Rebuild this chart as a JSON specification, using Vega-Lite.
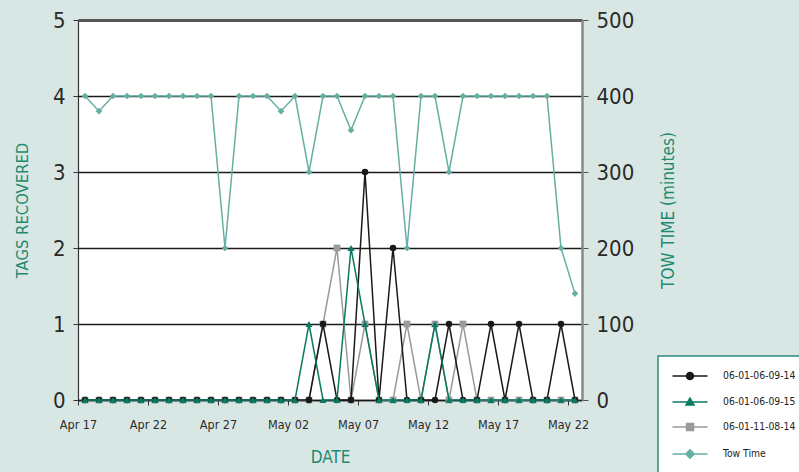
{
  "$schema": "https://vega.github.io/schema/vega-lite/v6.json",
  "width": 504,
  "height": 380,
  "autosize": "none",
  "padding": {"left": 78, "top": 20, "right": 217, "bottom": 72},
  "background": "#d9e7e4",
  "config": {
    "view": {"fill": "white", "stroke": null},
    "font": "Liberation Sans Narrow, DejaVu Sans Condensed, sans-serif"
  },
  "data": {
    "values": [
      {"date": "2006-04-17", "06-01-06-09-14": 0, "06-01-06-09-15": 0, "06-01-11-08-14": 0, "tow": 400},
      {"date": "2006-04-18", "06-01-06-09-14": 0, "06-01-06-09-15": 0, "06-01-11-08-14": 0, "tow": 380},
      {"date": "2006-04-19", "06-01-06-09-14": 0, "06-01-06-09-15": 0, "06-01-11-08-14": 0, "tow": 400},
      {"date": "2006-04-20", "06-01-06-09-14": 0, "06-01-06-09-15": 0, "06-01-11-08-14": 0, "tow": 400},
      {"date": "2006-04-21", "06-01-06-09-14": 0, "06-01-06-09-15": 0, "06-01-11-08-14": 0, "tow": 400},
      {"date": "2006-04-22", "06-01-06-09-14": 0, "06-01-06-09-15": 0, "06-01-11-08-14": 0, "tow": 400},
      {"date": "2006-04-23", "06-01-06-09-14": 0, "06-01-06-09-15": 0, "06-01-11-08-14": 0, "tow": 400},
      {"date": "2006-04-24", "06-01-06-09-14": 0, "06-01-06-09-15": 0, "06-01-11-08-14": 0, "tow": 400},
      {"date": "2006-04-25", "06-01-06-09-14": 0, "06-01-06-09-15": 0, "06-01-11-08-14": 0, "tow": 400},
      {"date": "2006-04-26", "06-01-06-09-14": 0, "06-01-06-09-15": 0, "06-01-11-08-14": 0, "tow": 400},
      {"date": "2006-04-27", "06-01-06-09-14": 0, "06-01-06-09-15": 0, "06-01-11-08-14": 0, "tow": 200},
      {"date": "2006-04-28", "06-01-06-09-14": 0, "06-01-06-09-15": 0, "06-01-11-08-14": 0, "tow": 400},
      {"date": "2006-04-29", "06-01-06-09-14": 0, "06-01-06-09-15": 0, "06-01-11-08-14": 0, "tow": 400},
      {"date": "2006-04-30", "06-01-06-09-14": 0, "06-01-06-09-15": 0, "06-01-11-08-14": 0, "tow": 400},
      {"date": "2006-05-01", "06-01-06-09-14": 0, "06-01-06-09-15": 0, "06-01-11-08-14": 0, "tow": 380},
      {"date": "2006-05-02", "06-01-06-09-14": 0, "06-01-06-09-15": 0, "06-01-11-08-14": 0, "tow": 400},
      {"date": "2006-05-03", "06-01-06-09-14": 0, "06-01-06-09-15": 1, "06-01-11-08-14": 0, "tow": 300},
      {"date": "2006-05-04", "06-01-06-09-14": 1, "06-01-06-09-15": 0, "06-01-11-08-14": 1, "tow": 400},
      {"date": "2006-05-05", "06-01-06-09-14": 0, "06-01-06-09-15": 0, "06-01-11-08-14": 2, "tow": 400},
      {"date": "2006-05-06", "06-01-06-09-14": 0, "06-01-06-09-15": 2, "06-01-11-08-14": 0, "tow": 355},
      {"date": "2006-05-07", "06-01-06-09-14": 3, "06-01-06-09-15": 1, "06-01-11-08-14": 1, "tow": 400},
      {"date": "2006-05-08", "06-01-06-09-14": 0, "06-01-06-09-15": 0, "06-01-11-08-14": 0, "tow": 400},
      {"date": "2006-05-09", "06-01-06-09-14": 2, "06-01-06-09-15": 0, "06-01-11-08-14": 0, "tow": 400},
      {"date": "2006-05-10", "06-01-06-09-14": 0, "06-01-06-09-15": 0, "06-01-11-08-14": 1, "tow": 200},
      {"date": "2006-05-11", "06-01-06-09-14": 0, "06-01-06-09-15": 0, "06-01-11-08-14": 0, "tow": 400},
      {"date": "2006-05-12", "06-01-06-09-14": 0, "06-01-06-09-15": 1, "06-01-11-08-14": 1, "tow": 400},
      {"date": "2006-05-13", "06-01-06-09-14": 1, "06-01-06-09-15": 0, "06-01-11-08-14": 0, "tow": 300},
      {"date": "2006-05-14", "06-01-06-09-14": 0, "06-01-06-09-15": 0, "06-01-11-08-14": 1, "tow": 400},
      {"date": "2006-05-15", "06-01-06-09-14": 0, "06-01-06-09-15": 0, "06-01-11-08-14": 0, "tow": 400},
      {"date": "2006-05-16", "06-01-06-09-14": 1, "06-01-06-09-15": 0, "06-01-11-08-14": 0, "tow": 400},
      {"date": "2006-05-17", "06-01-06-09-14": 0, "06-01-06-09-15": 0, "06-01-11-08-14": 0, "tow": 400},
      {"date": "2006-05-18", "06-01-06-09-14": 1, "06-01-06-09-15": 0, "06-01-11-08-14": 0, "tow": 400},
      {"date": "2006-05-19", "06-01-06-09-14": 0, "06-01-06-09-15": 0, "06-01-11-08-14": 0, "tow": 400},
      {"date": "2006-05-20", "06-01-06-09-14": 0, "06-01-06-09-15": 0, "06-01-11-08-14": 0, "tow": 400},
      {"date": "2006-05-21", "06-01-06-09-14": 1, "06-01-06-09-15": 0, "06-01-11-08-14": 0, "tow": 200},
      {"date": "2006-05-22", "06-01-06-09-14": 0, "06-01-06-09-15": 0, "06-01-11-08-14": 0, "tow": 140}
    ]
  },
  "encoding": {
    "x": {
      "field": "date",
      "type": "temporal",
      "timeUnit": "utcyearmonthdate",
      "bandPosition": 0.5,
      "scale": {
        "type": "utc",
        "domain": [
          {"year": 2006, "month": "apr", "date": 17, "utc": true},
          {"year": 2006, "month": "may", "date": 23, "utc": true}
        ]
      },
      "axis": {
        "values": [
          {"year": 2006, "month": "apr", "date": 17, "utc": true},
          {"year": 2006, "month": "apr", "date": 22, "utc": true},
          {"year": 2006, "month": "apr", "date": 27, "utc": true},
          {"year": 2006, "month": "may", "date": 2, "utc": true},
          {"year": 2006, "month": "may", "date": 7, "utc": true},
          {"year": 2006, "month": "may", "date": 12, "utc": true},
          {"year": 2006, "month": "may", "date": 17, "utc": true},
          {"year": 2006, "month": "may", "date": 22, "utc": true}
        ],
        "format": "%b %d",
        "grid": false,
        "labelFlush": false,
        "labelOverlap": false,
        "domainColor": "#1a1a1a",
        "domainWidth": 1.5,
        "tickColor": "#333333",
        "tickSize": 5,
        "labelFontSize": 12.5,
        "labelColor": "#2a2a2a",
        "labelPadding": 13,
        "title": "DATE",
        "titleFontSize": 17,
        "titleFontWeight": "normal",
        "titleColor": "#1f8a70",
        "titlePadding": 19
      }
    }
  },
  "layer": [
    {
      "transform": [
        {"fold": ["06-01-06-09-14", "06-01-06-09-15", "06-01-11-08-14"], "as": ["series", "tags"]}
      ],
      "encoding": {
        "y": {
          "field": "tags",
          "type": "quantitative",
          "scale": {"domain": [0, 5], "nice": false},
          "axis": {
            "orient": "left",
            "values": [0, 1, 2, 3, 4, 5],
            "grid": true,
            "gridColor": {"condition": {"test": "datum.value === 5", "value": "#555555"}, "value": "#1a1a1a"},
            "gridWidth": {"condition": {"test": "datum.value === 5", "value": 3}, "value": 1.4},
            "gridOpacity": 1,
            "domainColor": "#333333",
            "domainWidth": 1.2,
            "tickColor": "#333333",
            "tickSize": 5,
            "labelFontSize": 22,
            "labelColor": "#2a2a2a",
            "labelPadding": 8,
            "title": "TAGS RECOVERED",
            "titleFontSize": 16.5,
            "titleFontWeight": "normal",
            "titleColor": "#1f8a70",
            "titleAngle": 270,
            "titleX": -56,
            "titleY": 190,
            "titleAlign": "center",
            "titleBaseline": "middle"
          }
        }
      },
      "layer": [
        {
          "transform": [{"filter": "datum.series === '06-01-11-08-14'"}],
          "mark": {"type": "line", "strokeWidth": 1.5},
          "encoding": {
            "color": {
              "field": "series",
              "type": "nominal",
              "scale": {
                "domain": ["06-01-06-09-14", "06-01-06-09-15", "06-01-11-08-14", "Tow Time"],
                "range": ["#1a1a1a", "#0b7a62", "#9a9a9a", "#66b0a3"]
              },
              "legend": {
                "orient": "none",
                "legendX": 580,
                "legendY": 336,
                "title": null,
                "fillColor": "white",
                "strokeColor": "#2a8a78",
                "padding": 14,
                "symbolOffset": 12,
                "symbolSize": 100,
                "symbolStrokeWidth": 1.5,
                "labelFontSize": 10.3,
                "labelColor": "#222222",
                "labelOffset": 27,
                "rowPadding": 12,
                "encode": {
                  "legend": {"update": {"strokeWidth": {"value": 1.5}}},
                  "symbols": {
                    "update": {
                      "shape": {"signal": "datum.value === '06-01-06-09-14' ? 'M-3.5,0H3.5M-0.7,0A0.7,0.7,0,1,0,0.7,0A0.7,0.7,0,1,0,-0.7,0Z' : datum.value === '06-01-06-09-15' ? 'M-3.5,0H3.5M0,-0.8L0.8,0.6L-0.8,0.6Z' : datum.value === '06-01-11-08-14' ? 'M-3.5,0H3.5M-0.7,-0.7H0.7V0.7H-0.7Z' : 'M-3.5,0H3.5M0,-0.85L0.85,0L0,0.85L-0.85,0Z'"},
                      "fill": {"signal": "scale('color', datum.value)"},
                      "stroke": {"signal": "scale('color', datum.value)"},
                      "strokeWidth": {"value": 1.5},
                      "opacity": {"value": 1}
                    }
                  }
                }
              }
            }
          }
        },
        {
          "transform": [{"filter": "datum.series === '06-01-11-08-14'"}],
          "mark": {"type": "point", "shape": "square", "filled": true, "opacity": 1, "size": 45},
          "encoding": {"color": {"field": "series", "type": "nominal"}}
        },
        {
          "transform": [{"filter": "datum.series === '06-01-06-09-14'"}],
          "mark": {"type": "line", "strokeWidth": 1.5},
          "encoding": {"color": {"field": "series", "type": "nominal"}}
        },
        {
          "transform": [{"filter": "datum.series === '06-01-06-09-14'"}],
          "mark": {"type": "point", "shape": "circle", "filled": true, "opacity": 1, "size": 42},
          "encoding": {"color": {"field": "series", "type": "nominal"}}
        },
        {
          "transform": [{"filter": "datum.series === '06-01-06-09-15'"}],
          "mark": {"type": "line", "strokeWidth": 1.5},
          "encoding": {"color": {"field": "series", "type": "nominal"}}
        },
        {
          "transform": [{"filter": "datum.series === '06-01-06-09-15'"}],
          "mark": {"type": "point", "shape": "triangle-up", "filled": true, "opacity": 1, "size": 50},
          "encoding": {"color": {"field": "series", "type": "nominal"}}
        }
      ]
    },
    {
      "encoding": {
        "y": {
          "field": "tow",
          "type": "quantitative",
          "scale": {"domain": [0, 500], "nice": false},
          "axis": {
            "orient": "right",
            "values": [0, 100, 200, 300, 400, 500],
            "grid": false,
            "domainColor": "#888888",
            "domainWidth": 2.5,
            "tickColor": "#555555",
            "tickSize": 6,
            "labelFontSize": 22,
            "labelColor": "#2a2a2a",
            "labelPadding": 8,
            "title": "TOW TIME (minutes)",
            "titleFontSize": 17,
            "titleFontWeight": "normal",
            "titleColor": "#1f8a70",
            "titleAngle": 270,
            "titleX": 86,
            "titleY": 190,
            "titleAlign": "center",
            "titleBaseline": "middle"
          }
        },
        "color": {"datum": "Tow Time", "type": "nominal"}
      },
      "layer": [
        {"mark": {"type": "line", "strokeWidth": 1.5}},
        {"mark": {"type": "point", "shape": "diamond", "filled": true, "opacity": 1, "size": 45}}
      ]
    }
  ],
  "resolve": {"scale": {"y": "independent"}}
}
